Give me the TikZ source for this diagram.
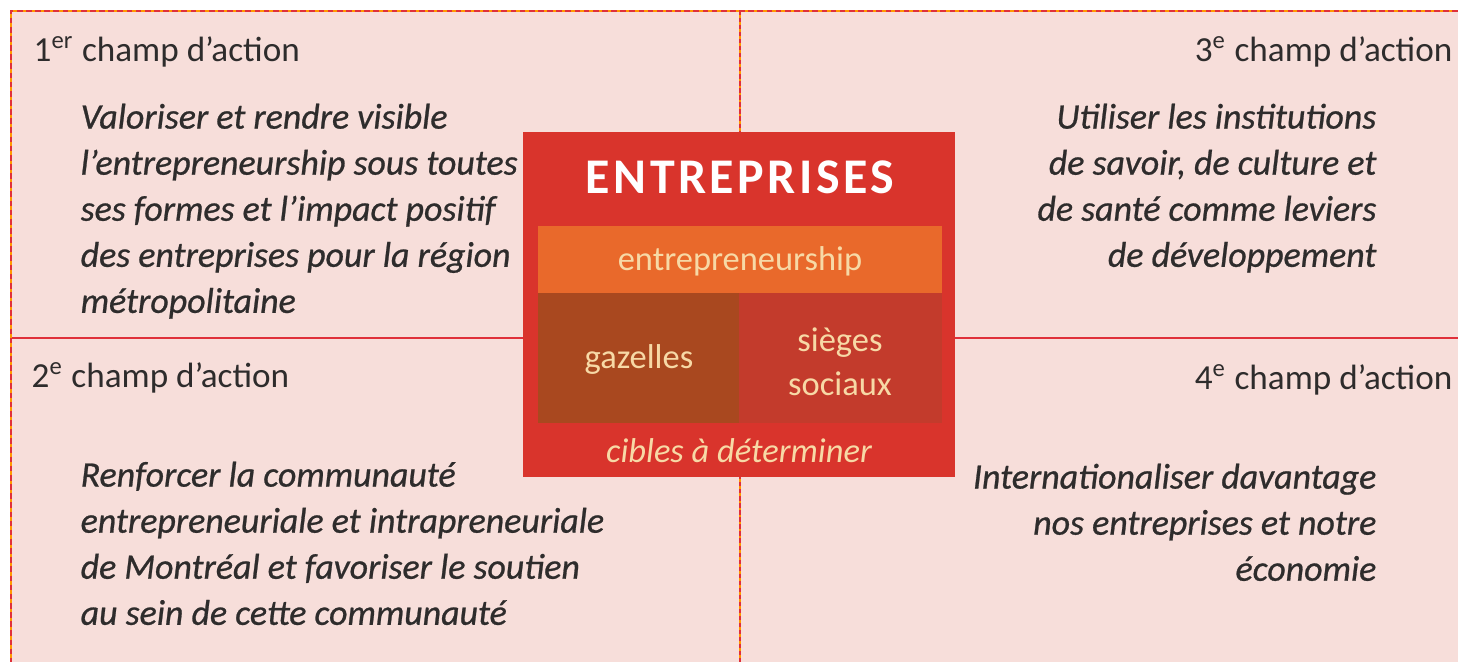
\documentclass[tikz,border=0pt]{standalone}
\usepackage{fontspec}
\setmainfont{Carlito}
\usetikzlibrary{positioning}

\definecolor{pagepink}{HTML}{F7DEDA}
\definecolor{boxred}{HTML}{D9342C}
\definecolor{bandorange}{HTML}{E9692B}
\definecolor{gazbrown}{HTML}{A9481F}
\definecolor{siegered}{HTML}{C33B2C}
\definecolor{peach}{HTML}{F7D9A6}
\definecolor{ink}{HTML}{2E2C2C}
\definecolor{rule}{HTML}{E0303A}

\tikzset{
  champ/.style={font=\fontsize{10}{12}\selectfont, text=ink, inner sep=0pt},
  goal/.style={font=\fontsize{10.2}{13.1}\selectfont\itshape\addfontfeature{FakeBold=0.7}, text=ink, inner sep=0pt},
  inbox/.style={font=\fontsize{9.8}{12.6}\selectfont, text=peach, inner sep=0pt, align=center}
}

\begin{document}
\begin{tikzpicture}[x=0.01cm, y=-0.01cm]
     \useasboundingbox (0,0) rectangle (1458,662);
     \fill[white] (0,0) rectangle (1458,662);
     \fill[pagepink] (11,11) rectangle (1458,662);
     % dividers
     \draw[rule, line width=0.5pt] (11,338) -- (1458,338);
     \draw[orange!80!yellow, line width=0.6pt] (740,11) -- (740,662);
     \draw[rule, line width=0.6pt, dash pattern=on 1.2pt off 0.8pt] (740,11) -- (740,662);
     \draw[orange!80!yellow, line width=0.6pt] (1458,11) -- (11,11) -- (11,662);
     \draw[rule, line width=0.6pt, dash pattern=on 1.6pt off 1pt] (1458,11) -- (11,11) -- (11,662);
     % central box
     \fill[boxred] (523,132) rectangle (955,477);
     \fill[bandorange] (538,226) rectangle (942,293);
     \fill[gazbrown] (538,293) rectangle (739,423);
     \fill[siegered] (739,293) rectangle (942,423);
     \node (titre) at (740,177) {\fontsize{14.2}{15}\selectfont\bfseries\addfontfeature{LetterSpace=7}\color{white}ENTREPRISES};
     \node[inbox] (entre) at (740,261) {entrepreneurship};
     \node[inbox] (gaz) at (639,360) {gazelles};
     \node[inbox] (sieges) at (840,362) {sièges\\sociaux};
     \node[inbox, font=\fontsize{9.8}{12}\selectfont\itshape] (cibles) at (739,451) {cibles à déterminer};
     % champs
     \node[champ, anchor=west] (c1) at (33,52) {1\textsuperscript{er} champ d’action};
     \node[champ, anchor=east] (c3) at (1453,52) {3\textsuperscript{e} champ d’action};
     \node[champ, anchor=west] (c2) at (31,378) {2\textsuperscript{e} champ d’action};
     \node[champ, anchor=east] (c4) at (1453,380) {4\textsuperscript{e} champ d’action};
     \node[goal, anchor=north west, align=left] (g1) at (80,103)
       {Valoriser et rendre visible\\l’entrepreneurship sous toutes\\ses formes et l’impact positif\\des entreprises pour la région\\métropolitaine};
     \node[goal, anchor=north east, align=right] (g3) at (1377,103)
       {Utiliser les institutions\\de savoir, de culture et\\de santé comme leviers\\de développement};
     \node[goal, anchor=north west, align=left] (g2) at (80,461)
       {Renforcer la communauté\\entrepreneuriale et intrapreneuriale\\de Montréal et favoriser le soutien\\au sein de cette communauté};
     \node[goal, anchor=north east, align=right] (g4) at (1377,463)
       {Internationaliser davantage\\nos entreprises et notre\\économie};
\end{tikzpicture}
\end{document}
